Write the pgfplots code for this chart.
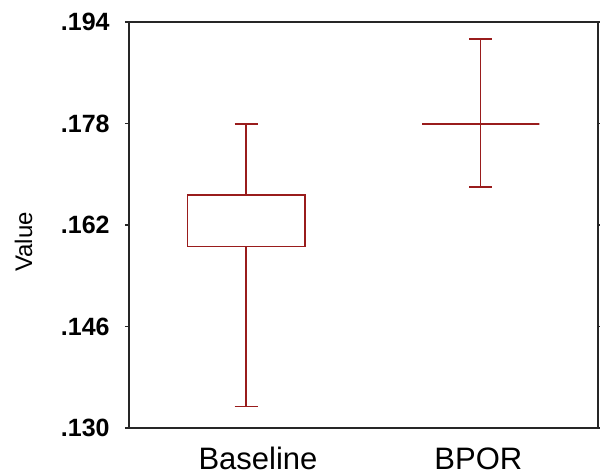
\documentclass[border=0pt]{standalone}
\usepackage{fontspec}
\setmainfont{Liberation Sans}
\usepackage{pgfplots}
\usepgfplotslibrary{statistics}
\pgfplotsset{compat=1.18}
\definecolor{boxred}{RGB}{153,28,28}

\begin{document}
\begin{tikzpicture}
  \begin{axis}[
    scale only axis,
    width=234.5pt,
    height=203pt,
    xmin=0.5, xmax=2.5,
    ymin=0.130, ymax=0.194,
    xtick={1.05,1.99},
    xticklabels={Baseline,BPOR},
    ytick={0.130,0.146,0.162,0.178,0.194},
    yticklabels={.130,.146,.162,.178,.194},
    tick align=outside,
    major tick length=2pt,
    xtick style={draw=none},
    ytick style={draw=black!85, line width=0.6pt},
    axis line style={draw=black!85, line width=0.8pt},
    xticklabel style={font=\fontsize{15.5}{18}\selectfont, inner sep=0pt, anchor=north, yshift=-7.5pt},
    yticklabel style={font=\fontsize{12.5}{15}\selectfont\bfseries, inner sep=0pt, anchor=east, xshift=-7.5pt},
    ylabel={Value},
    every axis y label/.style={at={(axis description cs:-0.2068,0.458)}, rotate=90, anchor=base, font=\fontsize{12}{14}\selectfont},
    boxplot/draw direction=y,
  ]
    % Baseline
    \addplot+[solid, mark=none, draw=boxred, line width=0.75pt,
      boxplot prepared={
        lower whisker=0.1334, lower quartile=0.1586, median=0.1586,
        upper quartile=0.1667, upper whisker=0.1779,
        draw position=1, box extend=0.5, whisker extend=0.1}]
      coordinates {};
    % BPOR
    \addplot+[solid, mark=none, draw=boxred, line width=0.75pt,
      boxplot prepared={
        lower whisker=0.1680, lower quartile=0.1779, median=0.1779,
        upper quartile=0.1779, upper whisker=0.1913,
        draw position=2, box extend=0.5, whisker extend=0.1}]
      coordinates {};
    \coordinate (sw) at (rel axis cs:0,0);
  \end{axis}
  \pgfresetboundingbox
  \path (sw) ++(-64.5pt,-23pt) rectangle ++(300pt,237pt);
\end{tikzpicture}
\end{document}
